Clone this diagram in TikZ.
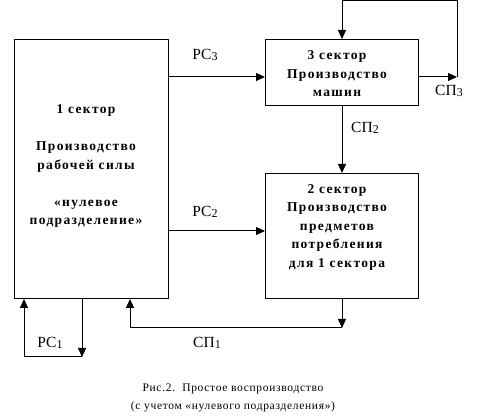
\documentclass[tikz,border=0pt]{standalone}
\usepackage{fontspec}
\setmainfont{Liberation Serif}
\usetikzlibrary{arrows.meta}
\newcommand\lsub[1]{{\fontsize{12}{12}\selectfont\raisebox{-1pt}{#1}}}
\begin{document}
\begin{tikzpicture}[x=1pt,y=-1pt,
  box/.style={draw, line width=1pt, anchor=north west, inner sep=0pt},
  conn/.style={line width=1pt},
  arr/.style={conn, -{Triangle[length=9pt,width=8pt]}},
  btext/.style={font=\fontsize{13.5}{18.5}\selectfont\bfseries\addfontfeature{LetterSpace=10}, align=center, inner sep=0pt},
  lbl/.style={font=\fontsize{15.5}{15.5}\selectfont, inner sep=0pt},
  captext/.style={font=\fontsize{11.5}{18}\selectfont\addfontfeature{LetterSpace=6}, align=center, inner sep=0pt}]
\useasboundingbox (0,0) rectangle (491,419);
% boxes
\node[box, minimum width=154pt, minimum height=259pt] (b1) at (14,39) {};
\node[box, minimum width=153pt, minimum height=66pt] (b3) at (265,39) {};
\node[box, minimum width=153pt, minimum height=125pt] (b2) at (265,173) {};
% box texts
\node[btext] (t1) at (86,166) {1 сектор\\[18.5pt] Производство\\ рабочей силы\\[18.5pt] «нулевое\\ подразделение»};
\node[btext] (t3) at (337,74) {3 сектор\\ Производство\\ машин};
\node[btext] (t2) at (337,227) {2 сектор\\ Производство\\ предметов\\ потребления\\ для 1 сектора};
% connectors
\draw[arr] (b1.east |- 0,77) -- (b3.west |- 0,77);
\draw[arr] (b1.east |- 0,231) -- (b2.west |- 0,231);
\draw[arr] (b3.south) -- (b2.north);
\coordinate (c3) at (457,77);
\draw[arr] (b3.east |- c3) -- (c3);
\draw[arr] (c3) -- (457,1) -- (b3.north |- 0,1) -- (b3.north);
\coordinate (c1) at (342,328);
\draw[arr] (b2.south) -- (b2.south |- c1);
\draw[arr] (b2.south |- c1) -- (130,328) -- (b1.south -| 130,0);
\coordinate (c0) at (82,357);
\draw[arr] (b1.south -| c0) -- (c0);
\draw[arr] (c0) -- (24,357) -- (b1.south -| 24,0);
% labels
\node[lbl] (l3) at (205,55) {РС\lsub{3}};
\node[lbl] (l2) at (205,212) {РС\lsub{2}};
\node[lbl] (s3) at (449,91) {СП\lsub{3}};
\node[lbl] (s2) at (365,128) {СП\lsub{2}};
\node[lbl] (l1) at (50,343) {РС\lsub{1}};
\node[lbl] (s1) at (207,343) {СП\lsub{1}};
% caption
\node[captext] (cap) at (233,398) {Рис.2.\ \ Простое воспроизводство\\ (с учетом «нулевого подразделения»)};
\end{tikzpicture}
\end{document}
